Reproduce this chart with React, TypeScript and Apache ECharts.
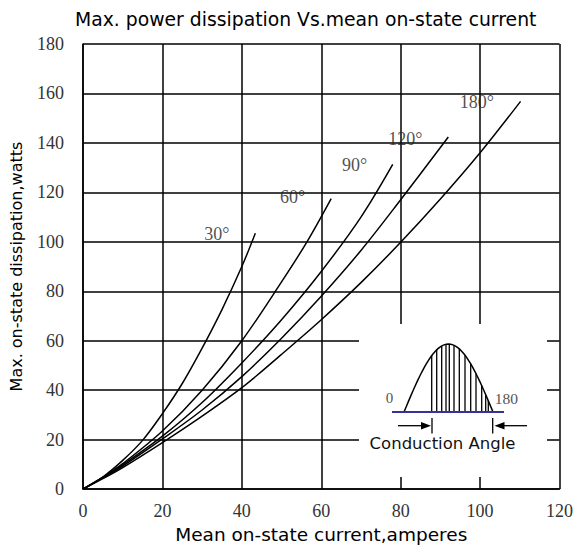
import React, { useEffect, useRef } from "react";
import * as echarts from "echarts";

// ---- data ----
const xTicks = [0, 20, 40, 60, 80, 100, 120];
const yTicks = [0, 20, 40, 60, 80, 100, 120, 140, 160, 180];

const angleNames = ["30°", "60°", "90°", "120°", "180°"];

const curve30X = [0, 5, 10, 15, 20, 25, 30, 35, 40, 43.4];
const curve30Y = [0, 4.9, 11.6, 19.7, 30.5, 42.7, 57, 72.6, 90, 103.5];

const curve60X = [0, 5, 10, 20, 30, 40, 50, 56.4, 62.5];
const curve60Y = [0, 4.8, 10.3, 23.5, 40, 60, 83.8, 100, 117.5];

const curve90X = [0, 5, 10, 20, 30, 40, 50, 60, 70, 78];
const curve90Y = [0, 4.7, 9.8, 21.4, 35, 51, 68.5, 88, 110, 131.3];

const curve120X = [0, 5, 10, 20, 30, 40, 50, 60, 70, 80, 92];
const curve120Y = [0, 4.5, 9.3, 20.3, 32, 45.5, 61, 78, 96.5, 117, 142.4];

const curve180X = [0, 5, 10, 20, 30, 40, 50, 60, 70, 80, 90, 100, 110.2];
const curve180Y = [0, 4.2, 8.7, 18.8, 29.5, 41, 54.5, 68.5, 83.5, 99.8, 117.3, 136, 156.8];

// curve label anchor positions (data units)
const labelX = [33.7, 52.8, 68.4, 81.2, 99.2];
const labelY = [103.3, 118, 130.9, 141.7, 156.6];

const curvesX = [curve30X, curve60X, curve90X, curve120X, curve180X];
const curvesY = [curve30Y, curve60Y, curve90Y, curve120Y, curve180Y];

// inset illustration hatch positions (pixels, decorative)
const hatchXs = [431.7, 436.7, 441.7, 446, 449.3, 454, 459.3, 465, 470.7, 476, 481.7, 485.7, 488.3];

const SANS = "DejaVu Sans";
const SERIF = "Liberation Serif";

function buildInset() {
  const x0 = 404, x1 = 493, base = 412, h = 68;
  const humpY = (x: number) => base - h * Math.sin((Math.PI * (x - x0)) / (x1 - x0));
  const pts: number[][] = [];
  for (let i = 0; i <= 40; i++) {
    const x = x0 + ((x1 - x0) * i) / 40;
    pts.push([x, humpY(x)]);
  }
  const els: any[] = [
    { type: "rect", shape: { x: 359, y: 324, width: 188, height: 153 }, style: { fill: "#fff" }, z: 100 },
    { type: "polyline", shape: { points: pts }, style: { stroke: "#000", lineWidth: 1.5, fill: null }, z: 101 },
  ];
  hatchXs.forEach((x) => {
    els.push({ type: "line", shape: { x1: x, y1: base, x2: x, y2: humpY(x) }, style: { stroke: "#000", lineWidth: 1.3 }, z: 101 });
  });
  els.push({ type: "line", shape: { x1: 392, y1: base, x2: 504, y2: base }, style: { stroke: "#33339a", lineWidth: 2 }, z: 102 });
  // arrows
  els.push({ type: "line", shape: { x1: 398, y1: 425.7, x2: 424, y2: 425.7 }, style: { stroke: "#000", lineWidth: 1.3 }, z: 101 });
  els.push({ type: "polygon", shape: { points: [[431, 425.7], [421, 422], [421, 429.4]] }, style: { fill: "#000" }, z: 101 });
  els.push({ type: "line", shape: { x1: 432, y1: 418, x2: 432, y2: 433.5 }, style: { stroke: "#000", lineWidth: 1.3 }, z: 101 });
  els.push({ type: "line", shape: { x1: 527, y1: 425.7, x2: 501, y2: 425.7 }, style: { stroke: "#000", lineWidth: 1.3 }, z: 101 });
  els.push({ type: "polygon", shape: { points: [[494.5, 425.7], [504.5, 422], [504.5, 429.4]] }, style: { fill: "#000" }, z: 101 });
  els.push({ type: "line", shape: { x1: 492.7, y1: 418, x2: 492.7, y2: 433.5 }, style: { stroke: "#000", lineWidth: 1.3 }, z: 101 });
  // texts
  els.push({ type: "text", x: 389.5, y: 398, style: { text: "0", fontFamily: SERIF, fontSize: 15, fill: "#555", align: "center", verticalAlign: "middle" }, z: 103 });
  els.push({ type: "text", x: 506.3, y: 398, style: { text: "180", fontFamily: SERIF, fontSize: 15.5, fill: "#555", align: "center", verticalAlign: "middle" }, z: 103 });
  els.push({ type: "text", x: 442.5, y: 443, style: { text: "Conduction Angle", fontFamily: SANS, fontSize: 16.5, fill: "#111", align: "center", verticalAlign: "middle" }, z: 103 });
  return els;
}

export default function App() {
  const ref = useRef<HTMLDivElement>(null);
  useEffect(() => {
    if (!ref.current) return;
    const chart = echarts.init(ref.current, null, { renderer: "svg" });
    const lineSeries = curvesX.map((xs, k) => ({
      type: "line",
      name: angleNames[k],
      data: xs.map((x, i) => [x, curvesY[k][i]]),
      smooth: 0.35,
      showSymbol: false,
      symbol: "none",
      lineStyle: { color: "#000", width: 1.5 },
      z: 3,
    }));
    const labelSeries = {
      type: "scatter",
      data: labelX.map((x, i) => [x, labelY[i], angleNames[i]]),
      symbolSize: 1,
      itemStyle: { color: "rgba(0,0,0,0)" },
      label: {
        show: true,
        position: "inside",
        formatter: (p: any) => p.data[2],
        fontFamily: SERIF,
        fontSize: 18,
        color: "#222",
      },
      z: 4,
    };
    chart.setOption({
      animation: false,
      title: {
        text: "Max. power dissipation Vs.mean on-state current",
        left: 70,
        top: 5,
        textStyle: { fontFamily: SANS, fontSize: 18.8, fontWeight: "normal", color: "#000" },
      },
      grid: { left: 82.3, right: 16, top: 44, bottom: 58 },
      xAxis: {
        type: "value",
        min: xTicks[0],
        max: xTicks[xTicks.length - 1],
        interval: 20,
        axisLine: { lineStyle: { color: "#000", width: 1.5 } },
        axisTick: { show: false },
        axisLabel: { fontFamily: SERIF, fontSize: 18, color: "#333", margin: 13, showMinLabel: true, showMaxLabel: true },
        splitLine: { show: true, lineStyle: { color: "#000", width: 1.5 } },
        name: "Mean on-state current,amperes",
        nameLocation: "middle",
        nameGap: 33,
        nameTextStyle: { fontFamily: SANS, fontSize: 18.5, color: "#000" },
      },
      yAxis: {
        type: "value",
        min: yTicks[0],
        max: yTicks[yTicks.length - 1],
        interval: 20,
        axisLine: { show: true, lineStyle: { color: "#000", width: 1.5 } },
        axisTick: { show: false },
        axisLabel: { fontFamily: SERIF, fontSize: 18, color: "#333", margin: 19, showMinLabel: true, showMaxLabel: true },
        splitLine: { show: true, lineStyle: { color: "#000", width: 1.5 } },
        name: "Max. on-state dissipation,watts",
        nameLocation: "middle",
        nameGap: 59,
        nameRotate: 90,
        nameTextStyle: { fontFamily: SANS, fontSize: 16, color: "#000" },
      },
      series: [...lineSeries, labelSeries],
      graphic: { elements: buildInset() },
    });
    return () => chart.dispose();
  }, []);
  return (
    <div
      ref={ref}
      style={{ position: "fixed", left: 0, top: 0, width: 576, height: 549, background: "#fff" }}
    />
  );
}
